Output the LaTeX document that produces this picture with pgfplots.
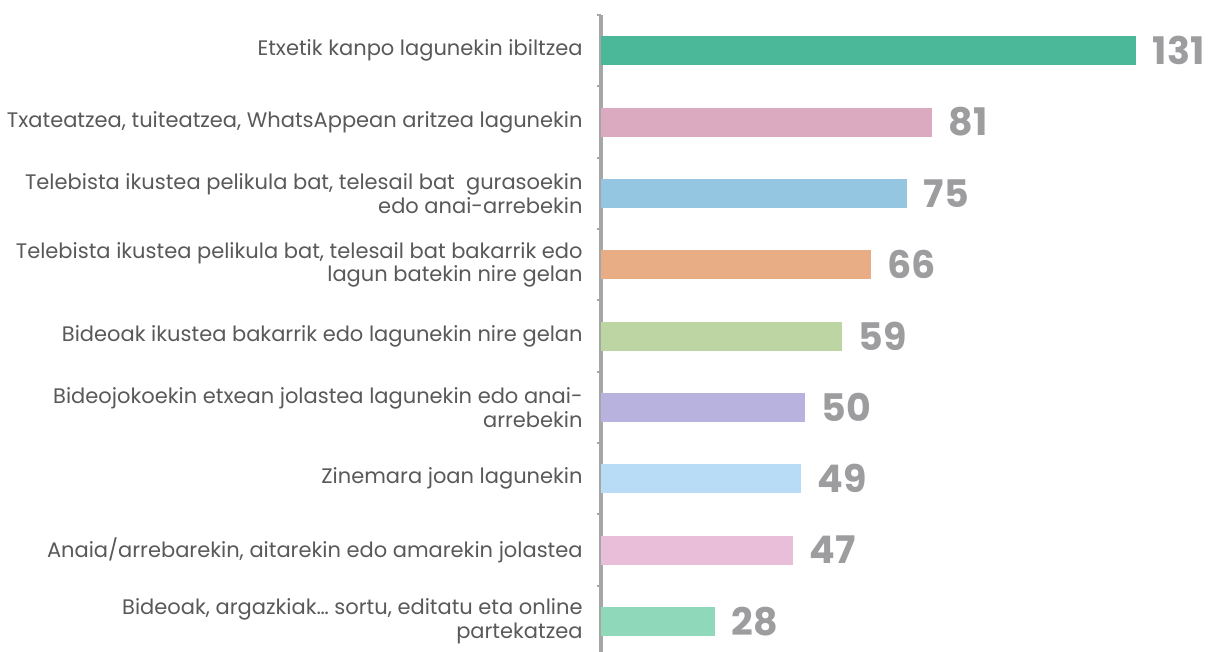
\documentclass[border=0pt]{standalone}
\usepackage{pgfplots}
\pgfplotsset{compat=1.18}
\usepackage{fontspec}
\setmainfont{Poppins}
\definecolor{c1}{HTML}{4BB89A}
\definecolor{c2}{HTML}{DBA9C0}
\definecolor{c3}{HTML}{94C6E2}
\definecolor{c4}{HTML}{E8AD85}
\definecolor{c5}{HTML}{BDD4A3}
\definecolor{c6}{HTML}{B8B2DE}
\definecolor{c7}{HTML}{B8DCF6}
\definecolor{c8}{HTML}{E8BED8}
\definecolor{c9}{HTML}{8FD9BA}
\definecolor{numgray}{HTML}{9D9DA0}
\definecolor{labelgray}{HTML}{595959}
\definecolor{axisgray}{HTML}{A6A6A6}
\begin{document}
\begin{tikzpicture}
\begin{axis}[
  at={(0,0)}, anchor=south west,
  scale only axis, width=306.5pt, height=321pt,
  xmin=0, xmax=150, ymin=-0.5, ymax=8.5, y dir=reverse,
  axis x line=none, axis y line*=left,
  axis line style={draw=axisgray, line width=1.6pt},
  ytick={0,...,8},
  yticklabels={
    {Etxetik kanpo lagunekin ibiltzea},
    {Txateatzea, tuiteatzea, WhatsAppean aritzea lagunekin},
    {Telebista ikustea pelikula bat, telesail bat\ \ gurasoekin\\edo anai-arrebekin},
    {Telebista ikustea pelikula bat, telesail bat bakarrik edo\\lagun batekin nire gelan},
    {Bideoak ikustea bakarrik edo lagunekin nire gelan},
    {Bideojokoekin etxean jolastea lagunekin edo anai-\\arrebekin},
    {Zinemara joan lagunekin},
    {Anaia/arrebarekin, aitarekin edo amarekin jolastea},
    {Bideoak, argazkiak… sortu, editatu eta online\\partekatzea}},
  major tick length=0pt,
  minor ytick={-0.5,0.5,...,8.5},
  minor tick length=2pt,
  tick align=outside,
  minor tick style={draw=axisgray, line width=1pt},
  yticklabel style={align=right, inner sep=0pt, xshift=-9pt,
    font=\fontsize{10.5}{9.2}\selectfont, text=labelgray},
  xbar, bar shift=0pt, bar width=14.5pt,
  /pgf/number format/assume math mode=true,
  nodes near coords,
  every node near coord/.append style={font=\bfseries\fontsize{19}{19}\selectfont,
    text=numgray, anchor=west, inner sep=0pt, xshift=8pt},
  clip=false,
]
\addplot[draw=none, fill=c1] coordinates {(131,0)};
\addplot[draw=none, fill=c2] coordinates {(81,1)};
\addplot[draw=none, fill=c3] coordinates {(75,2)};
\addplot[draw=none, fill=c4] coordinates {(66,3)};
\addplot[draw=none, fill=c5] coordinates {(59,4)};
\addplot[draw=none, fill=c6] coordinates {(50,5)};
\addplot[draw=none, fill=c7] coordinates {(49,6)};
\addplot[draw=none, fill=c8] coordinates {(47,7)};
\addplot[draw=none, fill=c9] coordinates {(28,8)};
\end{axis}
\pgfresetboundingbox
\path (-300.5pt,2.5pt) rectangle (306.5pt,328.5pt);
\end{tikzpicture}
\end{document}
